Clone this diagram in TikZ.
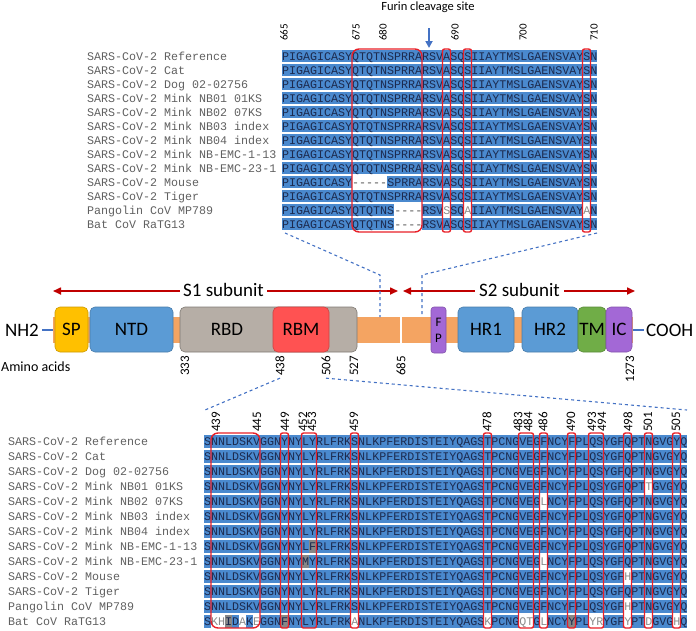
\documentclass[tikz,border=0pt]{standalone}
\usepackage{fontspec}
\setmainfont{Carlito}
\setmonofont{Liberation Mono}
\usepackage{tikz}
\usetikzlibrary{arrows.meta}

\definecolor{seqblue}{RGB}{74,137,206}
\definecolor{seqtext}{RGB}{28,42,78}
\definecolor{lblgray}{RGB}{96,96,96}
\definecolor{chgtext}{RGB}{140,140,140}
\definecolor{gaptext}{RGB}{80,80,80}
\definecolor{simgray}{RGB}{135,135,135}
\definecolor{boxred}{RGB}{232,32,40}
\definecolor{dashblue}{RGB}{68,114,196}
\definecolor{subred}{RGB}{192,0,0}
\definecolor{baror}{RGB}{244,164,98}
\definecolor{spyel}{RGB}{255,192,0}
\definecolor{domblue}{RGB}{91,155,213}
\definecolor{rbdgray}{RGB}{182,174,166}
\definecolor{rbmred}{RGB}{255,82,82}
\definecolor{dompurp}{RGB}{163,104,214}
\definecolor{tmgreen}{RGB}{112,173,71}

\newcommand{\chg}[1]{\textcolor{chgtext}{#1}}
\newcommand{\gp}{\textcolor{gaptext}{-}}
\def\reftop{PIGAGICASYQTQTNSPRRARSVASQSIIAYTMSLGAENSVAYSN}
\def\refbot{SNNLDSKVGGNYNYLYRLFRKSNLKPFERDISTEIYQAGSTPCNGVEGFNCYFPLQSYGFQPTNGVGYQ}

\tikzset{
  seqfont/.style={font=\ttfamily\fontsize{11.67}{12}\selectfont},
  rowlbl/.style={seqfont, text=lblgray, anchor=base west, inner sep=0pt},
  seqrow/.style={seqfont, text=seqtext, anchor=base west, inner sep=0pt},
  resnum/.style={rotate=90, anchor=west, inner sep=0pt, font=\fontsize{11}{12}\selectfont},
  aanum/.style={rotate=90, anchor=east, inner sep=0pt, font=\fontsize{13}{14}\selectfont},
  bigfont/.style={font=\fontsize{19}{20}\selectfont},
  dom/.style={bigfont, rounded corners=5pt, line width=0.6pt, inner sep=0pt, minimum height=45pt},
  redbox/.style={draw=boxred, line width=1.4pt, rounded corners=2pt},
  zoomline/.style={draw=dashblue, dashed, line width=1.1pt},
  subarrow/.style={draw=subred, line width=1.6pt, -{Triangle[length=8pt,width=7pt]}},
  termline/.style={draw=dashblue, line width=2pt},
}

\begin{document}
\begin{tikzpicture}[x=1pt, y=-1pt, font=\fontsize{11}{13}\selectfont]
\useasboundingbox (0,0) rectangle (696,630);

% furin site
\node[font=\fontsize{12.5}{14}\selectfont] (furin) at (428,7) {Furin cleavage site};
\coordinate (furtop) at (429,28);
\coordinate (furbot) at (429,48);
\draw[draw=dashblue, line width=2.2pt, -{Triangle[length=7pt,width=7pt]}] (furtop) -- (furbot);

% residue numbers, upper block
\foreach \n/\x in {665/284, 675/356, 680/383, 690/455, 700/523, 710/594}
  \node[resnum] (tn\n) at (\x,41) {\n};

% residue numbers, lower block
\foreach \n/\x in {439/216, 445/257, 449/285, 452/303, 453/312, 459/354, 478/487, 483/518,
                   484/528, 486/543, 490/571, 493/592, 494/602, 498/628, 501/648, 505/676}
  \node[resnum, font=\fontsize{13}{14}\selectfont] (bn\n) at (\x,432) {\n};

% row bands
\foreach \k in {0,...,12} {
  \fill[seqblue] (282,{50+14*\k}) rectangle (597,{62+14*\k});
  \fill[seqblue] (204,{434.5+15*\k}) rectangle (687,{447.5+15*\k});
}

% changed cells: white = different, gray = similar
\foreach \k/\c in {9/10, 9/11, 9/12, 9/13, 9/14, 11/16, 11/17, 11/18, 11/19,
                   11/23, 11/26, 11/43, 12/16, 12/17, 12/18, 12/19}
  \fill[white] ({282+7*\c},{50+14*\k}) rectangle +(7,12);
\foreach \k/\c in {3/63, 4/48, 8/48, 9/60, 11/60, 12/1, 12/2, 12/5, 12/7, 12/21,
                   12/40, 12/45, 12/46, 12/48, 12/55, 12/56, 12/60, 12/63, 12/67}
  \fill[white] ({204+7*\c},{434.5+15*\k}) rectangle +(7,13);
\foreach \k/\c in {7/15, 8/14, 12/3, 12/11, 12/52}
  \fill[simgray] ({204+7*\c},{434.5+15*\k}) rectangle +(7,13);

% names and sequences
\foreach \k/\name/\tseq/\bseq in {
  0/{SARS-CoV-2 Reference}/{\reftop}/{\refbot},
  1/{SARS-CoV-2 Cat}/{\reftop}/{\refbot},
  2/{SARS-CoV-2 Dog 02-02756}/{\reftop}/{\refbot},
  3/{SARS-CoV-2 Mink NB01 01KS}/{\reftop}/{SNNLDSKVGGNYNYLYRLFRKSNLKPFERDISTEIYQAGSTPCNGVEGFNCYFPLQSYGFQPT\chg{T}GVGYQ},
  4/{SARS-CoV-2 Mink NB02 07KS}/{\reftop}/{SNNLDSKVGGNYNYLYRLFRKSNLKPFERDISTEIYQAGSTPCNGVEG\chg{L}NCYFPLQSYGFQPTNGVGYQ},
  5/{SARS-CoV-2 Mink NB03 index}/{\reftop}/{\refbot},
  6/{SARS-CoV-2 Mink NB04 index}/{\reftop}/{\refbot},
  7/{SARS-CoV-2 Mink NB-EMC-1-13}/{\reftop}/{SNNLDSKVGGNYNYLFRLFRKSNLKPFERDISTEIYQAGSTPCNGVEGFNCYFPLQSYGFQPTNGVGYQ},
  8/{SARS-CoV-2 Mink NB-EMC-23-1}/{\reftop}/{SNNLDSKVGGNYNYMYRLFRKSNLKPFERDISTEIYQAGSTPCNGVEG\chg{L}NCYFPLQSYGFQPTNGVGYQ},
  9/{SARS-CoV-2 Mouse}/{PIGAGICASY\gp\gp\gp\gp\gp{}SPRRARSVASQSIIAYTMSLGAENSVAYSN}/{SNNLDSKVGGNYNYLYRLFRKSNLKPFERDISTEIYQAGSTPCNGVEGFNCYFPLQSYGF\chg{H}PTNGVGYQ},
  10/{SARS-CoV-2 Tiger}/{\reftop}/{\refbot},
  11/{Pangolin CoV MP789}/{PIGAGICASYQTQTNS\gp\gp\gp\gp{}RSV\chg{S}SQ\chg{A}IIAYTMSLGAENSVAY\chg{A}N}/{SNNLDSKVGGNYNYLYRLFRKSNLKPFERDISTEIYQAGSTPCNGVEGFNCYFPLQSYGF\chg{H}PTNGVGYQ},
  12/{Bat CoV RaTG13}/{PIGAGICASYQTQTNS\gp\gp\gp\gp{}RSVASQSIIAYTMSLGAENSVAYSN}/{S\chg{KH}ID\chg{A}K\chg{E}GGNFNYLYRLFRK\chg{A}NLKPFERDISTEIYQAGS\chg{K}PCNG\chg{QT}G\chg{L}NCYYPL\chg{YR}YGF\chg{Y}PT\chg{D}GVG\chg{H}Q}} {
  \node[rowlbl] (tl\k) at (87,{60+14*\k}) {\name};
  \node[seqrow] (ts\k) at (282,{60+14*\k}) {\tseq};
  \node[rowlbl] (bl\k) at (8,{445.5+15*\k}) {\name};
  \node[seqrow] (bs\k) at (204,{445.5+15*\k}) {\bseq};
}

% red frames, upper block
\draw[redbox, rounded corners=7pt] (352,49) rectangle (422,232);
\foreach \c in {23, 26, 43}
  \draw[redbox] ({282+7*\c-0.5},49) rectangle ({282+7*\c+7.5},232);

% red frames, lower block
\draw[redbox, rounded corners=7pt] (211,433) rectangle (260,628);
\foreach \a/\b in {11/11, 14/15, 21/21, 40/40, 45/46, 48/48, 52/52, 55/56, 60/60, 63/63, 67/67}
  \draw[redbox] ({204+7*\a-0.5},433) rectangle ({204+7*\b+7.5},628);

% subunit arrows
\node[bigfont, inner sep=3pt] (s1) at (223.5,290) {S1 subunit};
\node[bigfont, inner sep=4pt] (s2) at (519.5,290) {S2 subunit};
\coordinate (s1l) at (53,291);
\coordinate (s1r) at (398,291);
\coordinate (s2l) at (403,291);
\coordinate (s2r) at (635,291);
\draw[subarrow] (s1.west |- s1l) -- (s1l);
\draw[subarrow] (s1.east |- s1r) -- (s1r);
\draw[subarrow] (s2.west |- s2l) -- (s2l);
\draw[subarrow] (s2.east |- s2r) -- (s2r);

% spike backbone and domains
\fill[baror] (53,317) rectangle (633,343);
\draw[white, line width=2pt] (400.5,315) -- (400.5,345);
\node[dom, fill=spyel, draw=spyel!80!black, minimum width=33pt] (sp) at (71.5,329.5) {SP};
\node[dom, fill=domblue, draw=domblue!80!black, minimum width=83pt] (ntd) at (131.5,329.5) {NTD};
\node[dom, fill=rbdgray, draw=rbdgray!70!black, minimum width=177pt] (rbd) at (268.5,329.5) {};
\node[bigfont] (rbdlbl) at (227,329.5) {RBD};
\node[dom, fill=rbmred, draw=rbmred!80!black, minimum width=56pt] (rbm) at (301,329.5) {RBM};
\node[dom, fill=dompurp, draw=dompurp!80!black, minimum width=15pt, minimum height=46pt,
      rounded corners=3pt, align=center, font=\fontsize{13}{16}\selectfont] (fp) at (438.5,330) {F\\P};
\node[dom, fill=domblue, draw=domblue!80!black, minimum width=56pt] (hr1) at (486,329.5) {HR1};
\node[dom, fill=domblue, draw=domblue!80!black, minimum width=56pt] (hr2) at (550,329.5) {HR2};
\node[dom, fill=tmgreen, draw=tmgreen!80!black, minimum width=28pt] (tm) at (592,329.5) {TM};
\node[dom, fill=dompurp, draw=dompurp!80!black, minimum width=26pt] (ic) at (619,329.5) {IC};

% termini
\node[bigfont, inner sep=3pt] (nh2) at (22,330) {NH2};
\node[bigfont, anchor=west, inner sep=2pt] (cooh) at (644,330) {COOH};
\coordinate (barw) at (53,330);
\coordinate (bare) at (633,330);
\draw[termline] (nh2) -- (barw);
\draw[termline] (bare) -- (cooh);

% amino acid positions
\node[anchor=west, inner sep=0pt, font=\fontsize{14}{16}\selectfont] (aa) at (1,367) {Amino acids};
\foreach \n/\x in {333/185, 438/280, 506/326, 527/354, 685/401, 1273/630}
  \node[aanum] (an\n) at (\x,356) {\n};

% zoom lines to the alignments
\coordinate (topsw) at (285,233);
\coordinate (topse) at (597,233);
\coordinate (cutl) at (380,275);
\coordinate (cutr) at (422,275);
\coordinate (barl) at (380,317);
\coordinate (barr) at (422,317);
\coordinate (botnw) at (205,410);
\coordinate (botne) at (687,410);
\draw[zoomline] (topsw) -- (cutl) -- (barl);
\draw[zoomline] (topse) -- (cutr) -- (barr);
\draw[zoomline] ([yshift=-2pt]an438.west) -- (botnw);
\draw[zoomline] ([yshift=-2pt]an506.west) -- (botne);
\end{tikzpicture}
\end{document}
